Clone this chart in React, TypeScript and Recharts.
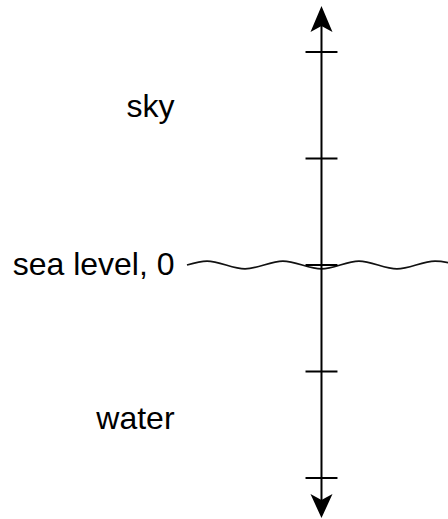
import React from 'react';
import { ComposedChart, Line, XAxis, YAxis, ReferenceLine, ReferenceDot } from 'recharts';

// vertical number line: tick values (units)
const tickValues = [2, 1, 0, -1, -2];
// ends of the axis arrows (units)
const axisTopValue = 2.432;
const axisBottomValue = -2.376;
// sea-level wave: crest / trough points
const waveX = [-1.263, -1.075, -0.718, -0.362, 0, 0.352, 0.709, 1.066, 1.422];
const waveY = [0, 0.036, -0.036, 0.036, -0.036, 0.036, -0.036, 0.036, -0.036];
// labels
const labelText = ['sky', 'sea level, 0', 'water'];
const labelValue = [1.48, 0, -1.45];

const waveData = waveX.map((x, i) => ({ x, y: waveY[i] }));

const W = 448;
const H = 519;
const X_DOMAIN: [number, number] = [-3.019, 1.188];
const Y_DOMAIN: [number, number] = [-2.385, 2.488];
const TICK_HALF = 0.15;
const LABEL_X = -1.38;
const FONT = '"Liberation Sans", Arial, Helvetica, sans-serif';

const ArrowAxis = (props: any) => {
  const { x1, y1, x2, y2 } = props;
  const cx = (x1 + x2) / 2;
  const top = Math.min(y1, y2);
  const bottom = Math.max(y1, y2);
  return (
    <g>
      <line x1={cx} y1={top + 10} x2={cx} y2={bottom - 10} stroke="#000" strokeWidth={2} />
      <polygon
        points={`${cx},${top} ${cx - 11},${top + 26} ${cx},${top + 20} ${cx + 11},${top + 26}`}
        fill="#000"
      />
      <polygon
        points={`${cx},${bottom} ${cx - 11},${bottom - 24} ${cx},${bottom - 18} ${cx + 11},${bottom - 24}`}
        fill="#000"
      />
    </g>
  );
};

const makeLabel = (text: string) => (props: any) => (
  <text
    x={props.cx}
    y={props.cy}
    dy="0.3em"
    textAnchor="end"
    fontFamily={FONT}
    fontSize={32}
    fill="#000"
  >
    {text}
  </text>
);

export default function App() {
  return (
    <div style={{ position: 'absolute', left: 0, top: 0, background: '#fff' }}>
      <ComposedChart
        width={W}
        height={H}
        data={waveData}
        margin={{ top: 0, right: 0, bottom: 0, left: 0 }}
      >
        <XAxis dataKey="x" type="number" domain={X_DOMAIN} allowDataOverflow hide />
        <YAxis type="number" domain={Y_DOMAIN} allowDataOverflow hide />
        <Line
          dataKey="y"
          type="monotone"
          stroke="#111"
          strokeWidth={1.7}
          dot={false}
          activeDot={false}
          isAnimationActive={false}
        />
        {tickValues.map((v) => (
          <ReferenceLine
            key={`t${v}`}
            segment={[
              { x: -TICK_HALF, y: v },
              { x: TICK_HALF, y: v },
            ]}
            stroke="#000"
            strokeWidth={2}
          />
        ))}
        <ReferenceLine
          segment={[
            { x: 0, y: axisTopValue },
            { x: 0, y: axisBottomValue },
          ]}
          shape={ArrowAxis}
        />
        {labelText.map((t, i) => (
          <ReferenceDot key={t} x={LABEL_X} y={labelValue[i]} r={0} shape={makeLabel(t)} />
        ))}
      </ComposedChart>
    </div>
  );
}
